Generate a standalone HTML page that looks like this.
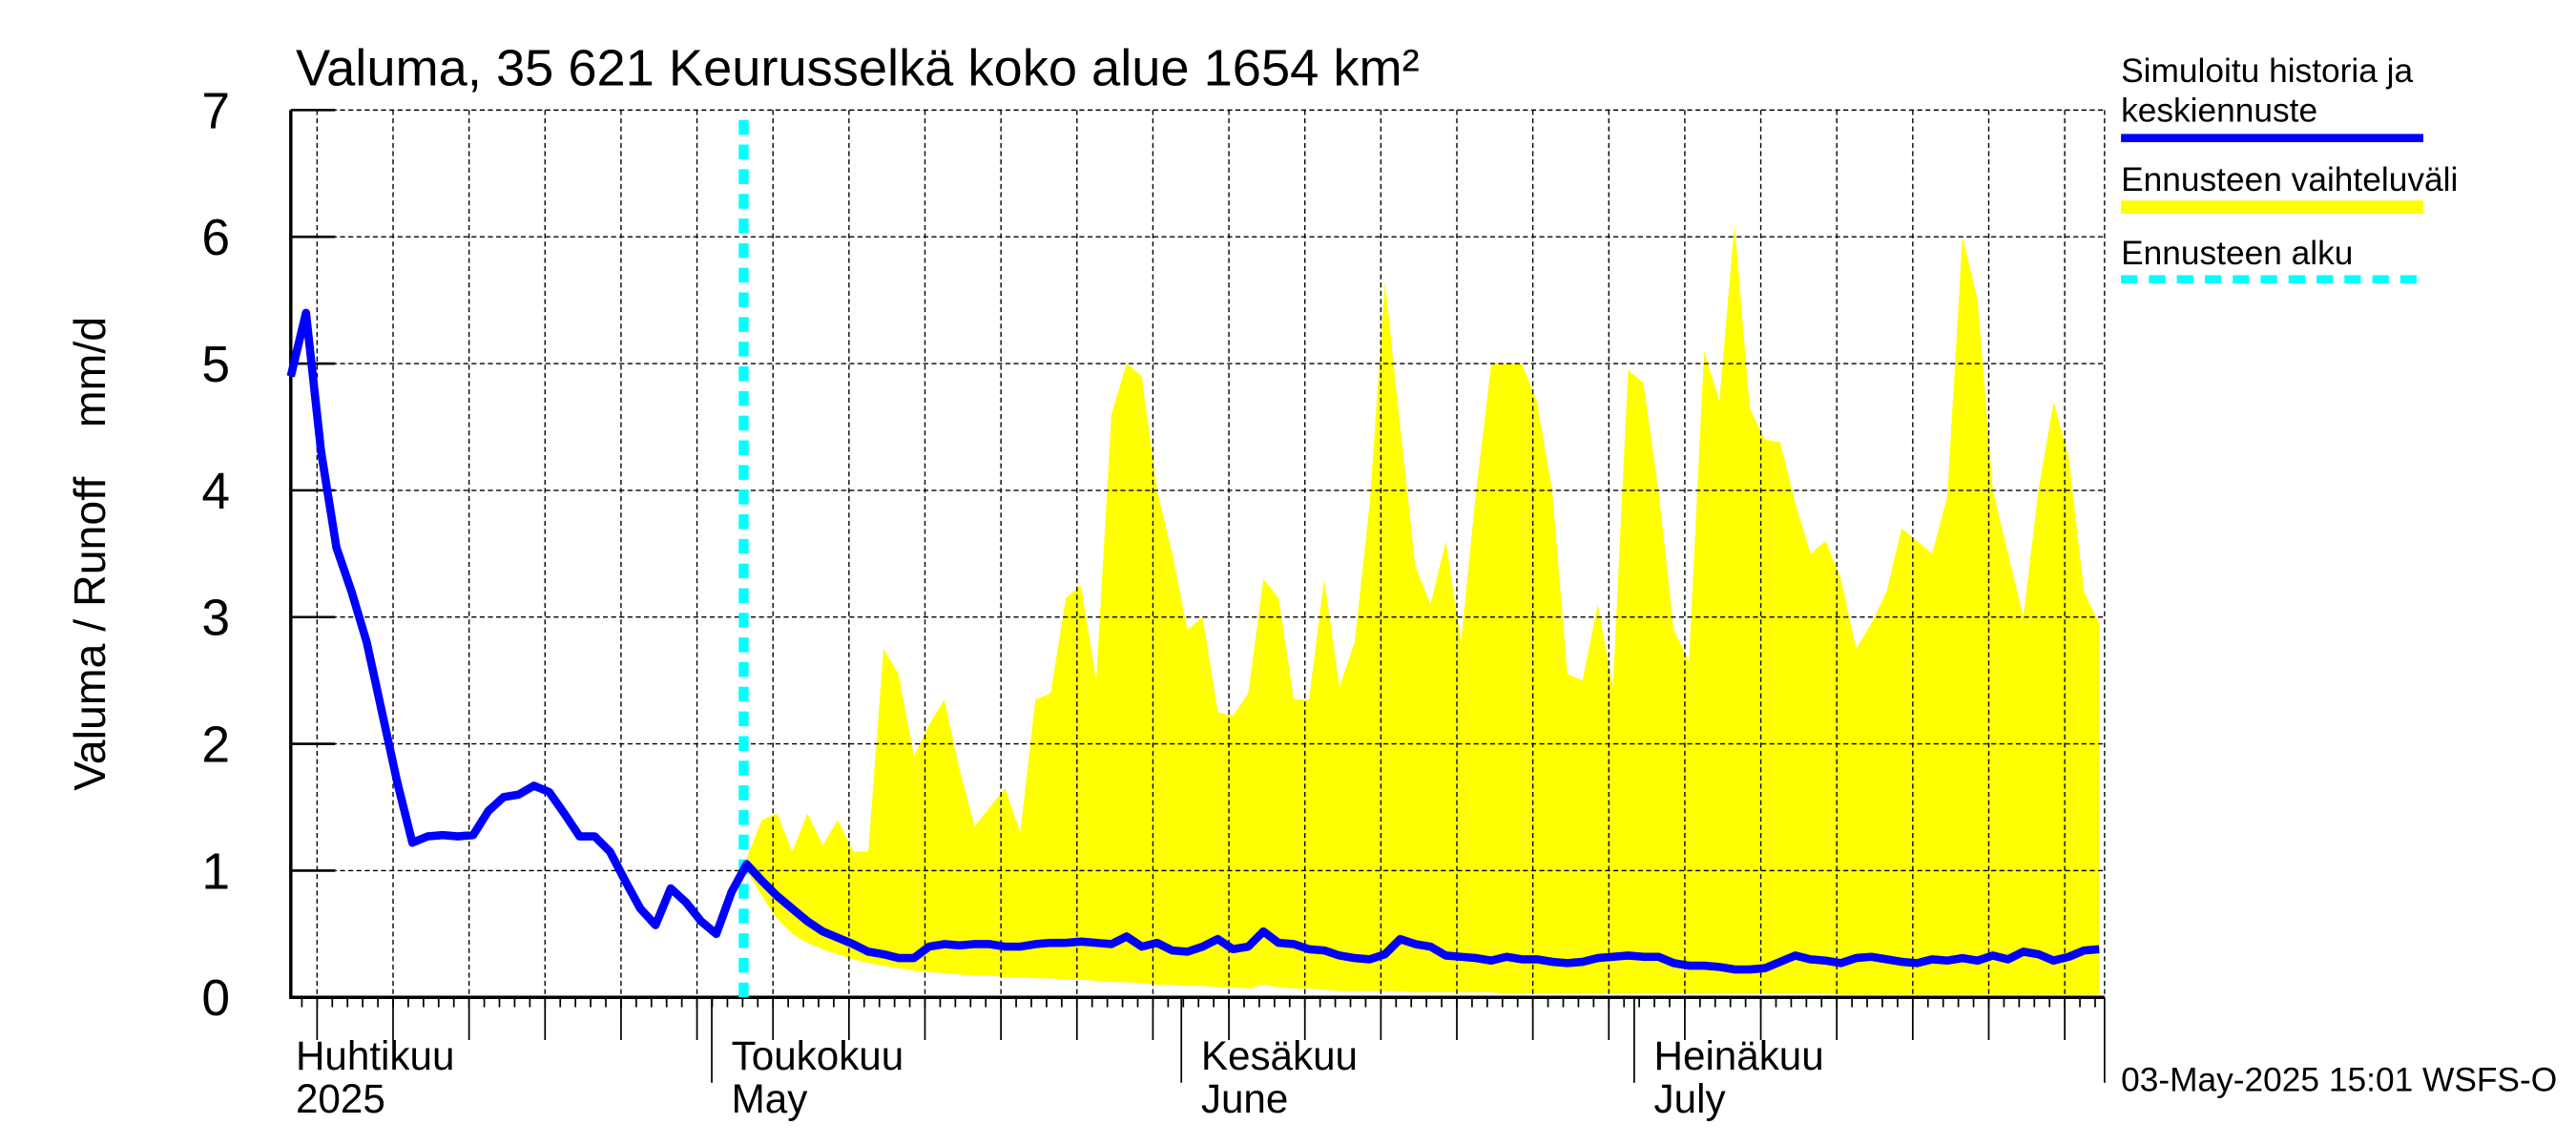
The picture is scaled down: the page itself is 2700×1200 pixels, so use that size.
<!DOCTYPE html>
<html><head><meta charset="utf-8"><style>
html,body{margin:0;padding:0;background:#fff;}
svg{display:block;font-family:"Liberation Sans",Arial,sans-serif;}
</style></head><body>
<svg id="chart" width="2700" height="1200" viewBox="0 0 2700 1200" xmlns="http://www.w3.org/2000/svg">
<g id="root" transform="scale(1.722,1.722)">
  <rect x="0" y="0" width="1570" height="700" fill="#fff"/>
  <g id="bandG"></g>
  <g id="gridG"></g>
  <g id="axisG"></g>
  <g id="lineG"></g>
  <text x="180" y="52" font-size="31.5">Valuma, 35 621 Keurusselkä koko alue 1654 km²</text>
  <text transform="translate(64,337) rotate(-90)" text-anchor="middle" font-size="27" xml:space="preserve">Valuma / Runoff    mm/d</text>
  <g>
    <text x="1291" y="50" font-size="20.5">Simuloitu historia ja</text>
    <text x="1291" y="74" font-size="20.5">keskiennuste</text>
    <line x1="1291" y1="84" x2="1475" y2="84" stroke="#0000ff" stroke-width="5"/>
    <text x="1291" y="116" font-size="20.5">Ennusteen vaihteluväli</text>
    <line x1="1291" y1="126" x2="1475" y2="126" stroke="#ffff00" stroke-width="8"/>
    <text x="1291" y="161" font-size="20.5">Ennusteen alku</text>
    <line x1="1291" y1="170" x2="1475" y2="170" stroke="#00ffff" stroke-width="5" stroke-dasharray="10,7"/>
  </g>
  <text x="1291" y="664" font-size="20.5">03-May-2025 15:01 WSFS-O</text>
</g>
</svg>
<script>
const yTicks = [0,1,2,3,4,5,6,7];
const monthDays = [27.7, 58.6, 88.4];
const monthNamesFi = ["Toukokuu","Kesäkuu","Heinäkuu"];
const monthNamesEn = ["May","June","July"];
const firstLabelFi = "Huhtikuu";
const firstLabelYear = "2025";
const forecastStartDay = 29.8;
const historyValues = [4.9,5.4,4.3,3.55,3.2,2.8,2.25,1.7,1.22,1.27,1.28,1.27,1.28,1.47,1.58,1.6,1.67,1.62,1.45,1.27,1.27,1.15,0.92,0.7,0.57,0.86,0.75,0.6,0.5,0.83,1.05];
const medianValues = [1.05,0.92,0.8,0.7,0.6,0.52,0.47,0.42,0.36,0.34,
0.31,0.31,0.4,0.42,0.41,0.42,0.42,0.4,0.4,0.42,
0.43,0.43,0.44,0.43,0.42,0.48,0.4,0.43,0.37,0.36,
0.4,0.46,0.38,0.4,0.52,0.43,0.42,0.38,0.37,0.33,
0.31,0.3,0.34,0.46,0.42,0.4,0.33,0.32,0.31,0.29,
0.32,0.3,0.3,0.28,0.27,0.28,0.31,0.32,0.33,0.32,
0.32,0.27,0.25,0.25,0.24,0.22,0.22,0.23,0.28,0.33,
0.3,0.29,0.27,0.31,0.32,0.3,0.28,0.27,0.3,0.29,
0.31,0.29,0.33,0.3,0.36,0.34,0.29,0.32,0.37,0.38];
const upperValues = [1.1,1.4,1.45,1.15,1.45,1.2,1.4,1.15,1.15,2.75,
2.55,1.9,2.15,2.35,1.8,1.35,1.5,1.65,1.3,2.35,2.4,3.15,
3.25,2.5,4.6,5.0,4.9,4.0,3.5,2.9,3.0,2.25,
2.22,2.4,3.3,3.15,2.35,2.35,3.3,2.45,2.8,3.9,
5.65,4.5,3.4,3.1,3.6,2.8,4.0,5.0,5.0,5.0,
4.7,4.0,2.55,2.5,3.1,2.45,4.95,4.85,4.0,2.9,
2.65,5.1,4.7,6.1,4.65,4.4,4.38,3.9,3.5,3.6,
3.3,2.75,2.95,3.2,3.7,3.6,3.5,3.95,6.0,5.5,
4.0,3.5,3.0,4.0,4.7,4.25,3.2,2.95];
const lowerValues = [1.0,0.8,0.62,0.5,0.43,0.38,0.34,0.3,0.27,0.25,
0.23,0.21,0.2,0.19,0.18,0.17,0.17,0.16,0.16,0.15,
0.15,0.14,0.14,0.13,0.12,0.12,0.11,0.1,0.1,0.09,
0.09,0.08,0.08,0.07,0.1,0.08,0.07,0.07,0.06,0.05,
0.05,0.05,0.05,0.05,0.04,0.04,0.04,0.04,0.04,0.04,
0.03,0.03,0.03,0.03,0.03,0.03,0.03,0.03,0.03,0.03,
0.03,0.03,0.03,0.03,0.03,0.03,0.03,0.03,0.03,0.03,
0.03,0.03,0.02,0.02,0.02,0.02,0.02,0.02,0.02,0.02,
0.02,0.02,0.02,0.02,0.02,0.02,0.02,0.02,0.02,0.02];

const X0=177, X1=1281, Y0=607, YT=67, PXD=9.25, YMAX=7;
const xS = d => X0 + d*PXD;
const yS = v => Y0 - v*(Y0-YT)/YMAX;
const NS="http://www.w3.org/2000/svg";
function mk(tag, parent, attrs){const e=document.createElementNS(NS,tag);for(const k in attrs)e.setAttribute(k,attrs[k]);parent.appendChild(e);return e;}
const gridG=document.getElementById('gridG'), axisG=document.getElementById('axisG'), bandG=document.getElementById('bandG'), lineG=document.getElementById('lineG');
const fStart = historyValues.length-1;
const dEnd = (X1-X0)/PXD;

let pts=[];
upperValues.forEach((v,i)=>{const d=Math.min(fStart+i,dEnd);pts.push(xS(d)+','+yS(v));});
for(let i=lowerValues.length-1;i>=0;i--){const d=Math.min(fStart+i,dEnd);pts.push(xS(d)+','+yS(lowerValues[i]));}
const band=mk('polygon',bandG,{points:pts.join(' '),fill:'#ffff00'});



yTicks.forEach(t=>{
  const y=yS(t);
  if(t>0){const gl=mk('line',gridG,{x1:X0,y1:y,x2:X1,y2:y,stroke:'#000','stroke-width':0.8,'stroke-dasharray':'3,2'});
  
  }
  const tk=mk('line',axisG,{x1:X0,y1:y,x2:X0+27,y2:y,stroke:'#000','stroke-width':1.5});
  
  
  const tl=mk('text',axisG,{x:140,y:y+11,'text-anchor':'end','font-size':31});
  tl.textContent=t;
  
  
});
for(let d=1.73; d<dEnd+0.1; d+=5){
  const x=Math.min(xS(d),X1);
  const gl=mk('line',gridG,{x1:x,y1:YT,x2:x,y2:Y0,stroke:'#000','stroke-width':0.8,'stroke-dasharray':'3,2'});
  
  
  const tk=mk('line',axisG,{x1:x,y1:Y0,x2:x,y2:Y0+26,stroke:'#000','stroke-width':1});
  
  
}
const rg=mk('line',gridG,{x1:X1,y1:YT,x2:X1,y2:Y0,stroke:'#000','stroke-width':0.8,'stroke-dasharray':'3,2'});


for(let d=0.73; d<dEnd; d+=1){
  const tk=mk('line',axisG,{x1:xS(d),y1:Y0,x2:xS(d),y2:Y0+6,stroke:'#000','stroke-width':1});
  
  
}
monthDays.forEach((d,i)=>{
  const x=xS(d);
  const tk=mk('line',axisG,{x1:x,y1:Y0,x2:x,y2:Y0+52,stroke:'#000','stroke-width':1});
  
  
  const a=mk('text',axisG,{x:x+12,y:651,'font-size':24.5});a.textContent=monthNamesFi[i];
  
  
  const b=mk('text',axisG,{x:x+12,y:677,'font-size':24.5});b.textContent=monthNamesEn[i];
  
  
});
const ea=mk('line',axisG,{x1:X1,y1:Y0,x2:X1,y2:Y0+52,stroke:'#000','stroke-width':1});


const f1=mk('text',axisG,{x:180,y:651,'font-size':24.5});f1.textContent=firstLabelFi;


const f2=mk('text',axisG,{x:180,y:677,'font-size':24.5});f2.textContent=firstLabelYear;


const ax1=mk('line',axisG,{x1:X0,y1:YT,x2:X0,y2:Y0+1,stroke:'#000','stroke-width':2});


const ax2=mk('line',axisG,{x1:X0,y1:Y0,x2:X1,y2:Y0,stroke:'#000','stroke-width':2});



const fs=mk('line',lineG,{x1:xS(forecastStartDay),y1:73,x2:xS(forecastStartDay),y2:Y0,stroke:'#00ffff','stroke-width':6,'stroke-dasharray':'9,6'});



let lp=[];
historyValues.forEach((v,i)=>lp.push(xS(i)+','+yS(v)));
medianValues.forEach((v,i)=>{if(i>0)lp.push(Math.min(xS(fStart+i),X1)+','+yS(v));});
const ln=mk('polyline',lineG,{points:lp.join(' '),fill:'none',stroke:'#0000ff','stroke-width':5,'stroke-linejoin':'round'});


</script>
</body></html>
